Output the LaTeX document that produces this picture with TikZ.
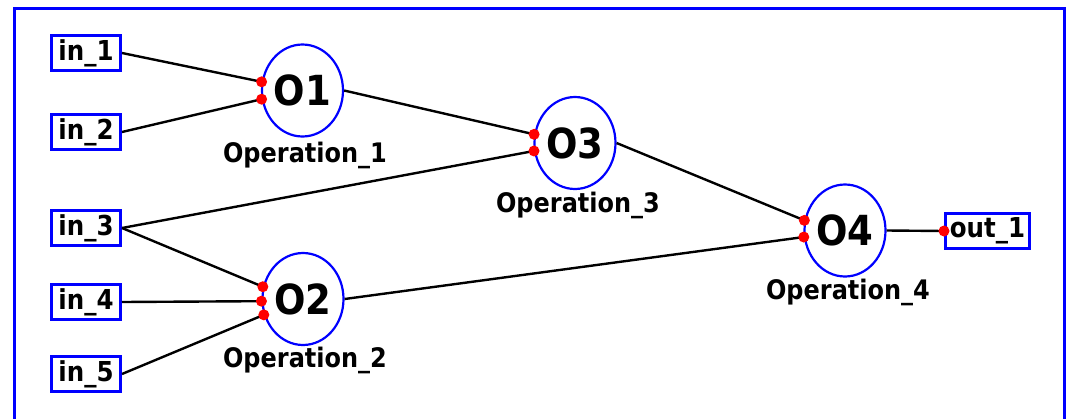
\documentclass[tikz,border=0pt]{standalone}
\usepackage{fontspec}
\setmainfont{DejaVu Sans}
\usetikzlibrary{shapes.geometric}
\newcommand{\tall}[1]{\scalebox{1}[1.12]{#1}}
\tikzset{
  port/.style={draw=blue, line width=3pt, inner sep=0pt,
    minimum width=69pt, minimum height=35pt,
    font=\bfseries\fontsize{24.5}{28}\selectfont},
  opnode/.style={ellipse, draw=blue, line width=2.2pt, inner sep=0pt,
    minimum width=81pt, minimum height=92pt,
    font=\bfseries\fontsize{37}{40}\selectfont},
  caption/.style={inner sep=0pt, font=\bfseries\fontsize{24}{28}\selectfont},
  wire/.style={line width=2.4pt, black},
  pin/.style={fill=red}
}
\begin{document}
\begin{tikzpicture}[x=1pt, y=-1pt]
  \useasboundingbox (0,0) rectangle (1066,418);
  \clip (0,0) rectangle (1066,418);
  \fill[white] (0,0) rectangle (1066,418);
  % outer frame, open at the bottom
  \draw[blue, line width=3pt] (14,440) -- (14,8.7) -- (1064,8.7) -- (1064,440);

  % inputs and output
  \node[port] (in1) at (86,53) {\tall{in\_1}};
  \node[port] (in2) at (86,132) {\tall{in\_2}};
  \node[port] (in3) at (86,228) {\tall{in\_3}};
  \node[port] (in4) at (86,302) {\tall{in\_4}};
  \node[port] (in5) at (86,374) {\tall{in\_5}};
  \node[port, minimum width=84pt] (out1) at (987.5,231) {\tall{out\_1}};

  % operations
  \node[opnode] (O1) at (302.5,90.5) {\tall{O1}};
  \node[opnode] (O2) at (303,299) {\tall{O2}};
  \node[opnode] (O3) at (575,143) {\tall{O3}};
  \node[opnode] (O4) at (845,230.5) {\tall{O4}};

  \node[caption] (c1) at (305,155) {\tall{Operation\_1}};
  \node[caption] (c2) at (305,360) {\tall{Operation\_2}};
  \node[caption] (c3) at (578,205) {\tall{Operation\_3}};
  \node[caption] (c4) at (848,292) {\tall{Operation\_4}};

  % input pins on the operations
  \coordinate (p1a) at (O1.168);
  \coordinate (p1b) at (O1.192);
  \coordinate (p2a) at (O2.163);
  \coordinate (p2b) at (O2.183);
  \coordinate (p2c) at (O2.202);
  \coordinate (p3a) at (O3.168);
  \coordinate (p3b) at (O3.191);
  \coordinate (p4a) at (O4.166);
  \coordinate (p4b) at (O4.189);
  \coordinate (po) at (out1.west);

  % wires
  \draw[wire] (in1.east) -- (p1a);
  \draw[wire] (in2.east) -- (p1b);
  \draw[wire] (in3.east) -- (p3b);
  \draw[wire] (in3.east) -- (p2a);
  \draw[wire] (in4.east) -- (p2b);
  \draw[wire] (in5.east) -- (p2c);
  \draw[wire] (O1.east) -- (p3a);
  \draw[wire] (O3.east) -- (p4a);
  \draw[wire] (O2.east) -- (p4b);
  \draw[wire] (O4.east) -- (po);

  \foreach \p in {p1a,p1b,p2a,p2b,p2c,p3a,p3b,p4a,p4b,po}
    \fill[pin] (\p) circle (5.5pt);
\end{tikzpicture}
\end{document}
